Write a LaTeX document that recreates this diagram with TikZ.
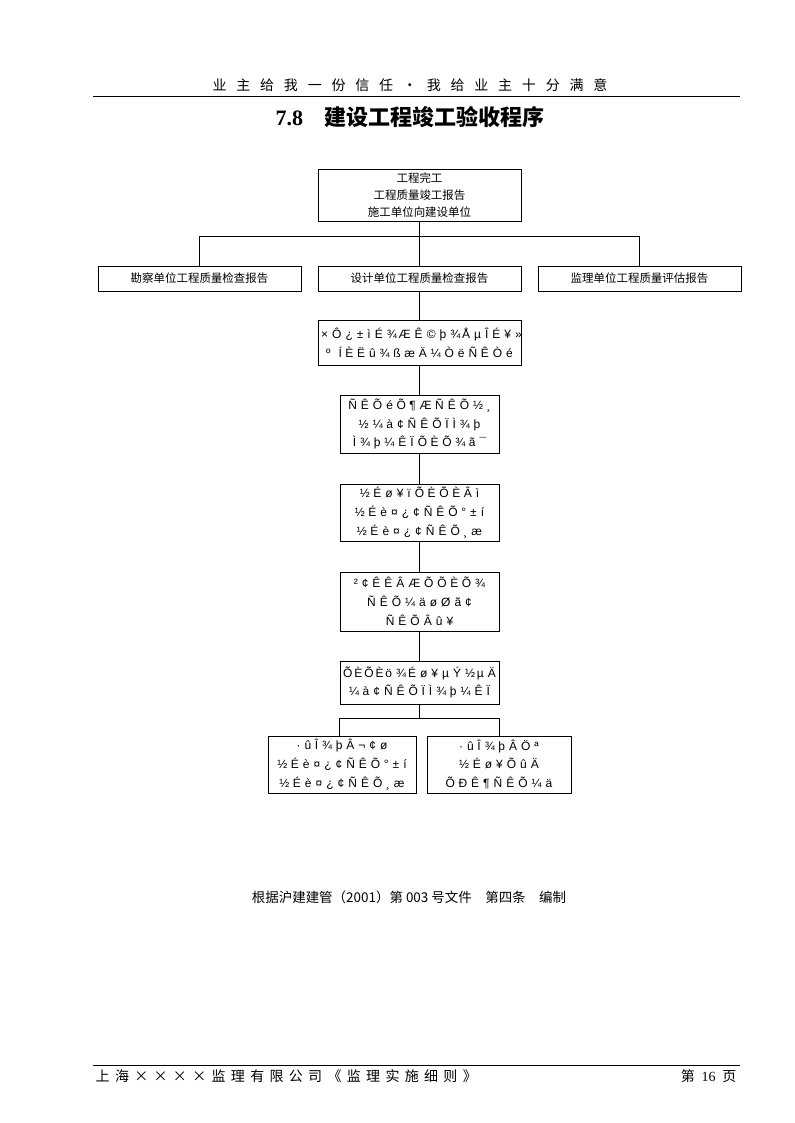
\documentclass[tikz,border=0pt]{standalone}
\usepackage{fontspec}
\usepackage{tikz}
\setmainfont{Liberation Serif}
\newfontfamily\cjk{Noto Sans CJK SC}
\newfontfamily\cjkhead[LetterSpace=70]{Noto Sans CJK SC}
\newfontfamily\cjkfoot[LetterSpace=38]{Noto Sans CJK SC}
\newfontfamily\garb[LetterSpace=30]{Liberation Sans}
\newfontfamily\garbtight[LetterSpace=16]{Liberation Sans}
\newcommand{\tightline}[1]{\makebox[0pt]{\garbtight #1}}
\tikzset{%
    box/.style={%
        draw, line width=0.6pt, inner sep=0pt, align=center,
        font=\cjk\fontsize{8.6}{12.5}\selectfont
    },
    garbbox/.style={%
        box, text width=119.25pt,
        font=\garb\fontsize{9}{14.2}\selectfont
    },
    wire/.style={line width=0.6pt}
}

\begin{document}
\begin{tikzpicture}[x=0.75pt,y=-0.75pt]
    \useasboundingbox (0,0) rectangle (794,1123);
    % header and footer
    \node (head) at (410,85) {\cjkhead\fontsize{10.5}{12}\selectfont 业主给我一份信任·我给业主十分满意};
    \draw[wire] (93,96) -- (740,96);
    \node (title) at (410,117) {\fontsize{16.5}{18}\selectfont\bfseries 7.8\hspace{16pt}\cjk 建设工程竣工验收程序};
    \draw[wire] (93,1065) -- (740,1065);
    \node[anchor=west] (foot) at (91,1076) {\cjkfoot\fontsize{10.5}{12}\selectfont 上海××××监理有限公司《监理实施细则》};
    \node[anchor=east] (page) at (741,1076) {\cjk\fontsize{10.5}{12}\selectfont 第\hspace{5pt}{\rmfamily 16}\hspace{5pt}页};

    % flow
    \node[box, minimum width=152.25pt, minimum height=39pt] (done) at (419.5,195)
        {工程完工\\工程质量竣工报告\\施工单位向建设单位};
    \node[box, minimum width=152.25pt, minimum height=18.75pt] (rep1) at (199.5,278.5) {勘察单位工程质量检查报告};
    \node[box, minimum width=152.25pt, minimum height=18.75pt] (rep2) at (419.5,278.5) {设计单位工程质量检查报告};
    \node[box, minimum width=152.25pt, minimum height=18.75pt] (rep3) at (639.5,278.5) {监理单位工程质量评估报告};
    \node[garbbox, text width=152.25pt, minimum height=33.75pt] (b3) at (419.5,342.5)
        {\hspace{3pt}\tightline{× Ô ¿ ± ì É ¾Æ Ê © þ ¾Å µ Î É ¥ »}\\º \ ÍÈË û ¾ßæ Ä ¼Ò ë ÑÊ Ò é};
    \node[garbbox, minimum height=43.5pt] (b4) at (419.5,424)
        {Ñ Ê Õ éÕ¶ÆÑ Ê Õ ½¸\\½ ¼à ¢ Ñ Ê ÕÏ Ì ¾þ\\Ì ¾þ ¼ Ê Ï ÕÈÕ¾ã ¯};
    \node[garbbox, minimum height=42.75pt] (b5) at (419.5,512.5)
        {½É ø ¥ ï ÕÈÕÈÂ ì\\½É è ¤ ¿ ¢ Ñ Ê Õ° ± í\\½É è ¤ ¿ ¢ Ñ Ê Õ¸ æ};
    \node[garbbox, minimum height=44.25pt] (b6) at (419.5,601.5)
        {² ¢ Ê Ê Â ÆÕ ÕÈÕ ¾\\Ñ Ê Õ ¼ ä ø Ø ã ¢\\Ñ Ê Õ Â û ¥};
    \node[garbbox, minimum height=32.25pt] (b7) at (419.5,682.5)
        {\tightline{ÕÈÕÈö ¾É ø ¥ µ Ý ½µ Ä}\\¼à ¢ Ñ Ê ÕÏ Ì ¾þ ¼ Ê Ï};
    \node[garbbox, text width=111pt, minimum height=42.75pt] (b8a) at (342,764.5)
        {· ûÎ ¾þ Â ¬ ¢ ø\\½É è ¤ ¿ ¢ Ñ Ê Õ° ± í\\½É è ¤ ¿ ¢ Ñ Ê Õ¸ æ};
    \node[garbbox, text width=108pt, minimum height=42.75pt] (b8b) at (499,764.5)
        {· ûÎ ¾þ Â Ö ª\\½É ø ¥ Õ û Ä\\ÕÐ Ê ¶ Ñ Ê Õ ¼ ä};

    \draw[wire] (done.south) -- ++(0,15) coordinate (split1);
    \draw[wire] (split1 -| rep1.north) -- (split1 -| rep3.north);
    \foreach \n in {rep1,rep2,rep3}
    {
    \draw[wire] (split1 -| \n.north) -- (\n.north);
    }
    \draw[wire] (rep2) -- (b3);
    \draw[wire] (b3) -- (b4);
    \draw[wire] (b4) -- (b5);
    \draw[wire] (b5) -- (b6);
    \draw[wire] (b6) -- (b7);
    \draw[wire] (b7.south) -- ++(0,14) coordinate (split2);
    \draw[wire] (split2 -| b7.west) -- (split2 -| b8b.north);
    \draw[wire] (split2 -| b7.west) -- (b7.west |- b8a.north);
    \draw[wire] (split2 -| b8b.north) -- (b8b.north);

    \node (note) at (409,897) {\cjk\fontsize{10.1}{12}\selectfont 根据沪建建管（2001）第 003 号文件\quad 第四条\quad 编制};
\end{tikzpicture}
\end{document}
